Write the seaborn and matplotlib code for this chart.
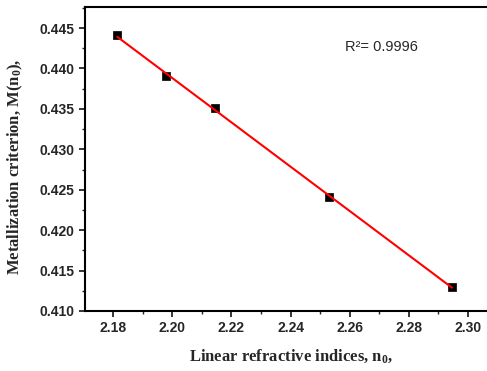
import matplotlib
matplotlib.use("Agg")
import matplotlib.pyplot as plt
import seaborn as sns
import numpy as np
from matplotlib.ticker import MultipleLocator, AutoMinorLocator, FormatStrFormatter

n0 = [2.1814, 2.1979, 2.2143, 2.2529, 2.2946]
M = [0.4441, 0.4391, 0.4351, 0.4241, 0.4130]
r2_text = "R\u00b2= 0.9996"

sns.set_style("white")
plt.rcParams['font.family'] = ['Liberation Sans', 'DejaVu Sans']
plt.rcParams['font.weight'] = 'bold'
plt.rcParams['mathtext.fontset'] = 'custom'
plt.rcParams['mathtext.rm'] = 'Liberation Serif'
plt.rcParams['mathtext.bf'] = 'Liberation Serif:bold'
plt.rcParams['mathtext.it'] = 'Liberation Serif:italic'

fig = plt.figure(figsize=(4.87, 3.71), dpi=100)
ax = fig.add_axes([85/487, 60/371, 404/487, 304/371])

sns.regplot(x=n0, y=M, ax=ax, ci=None, scatter=False,
            line_kws=dict(color='#ff0000', lw=1.5, zorder=3))
sns.scatterplot(x=n0, y=M, ax=ax, marker='s', color='black', s=30,
                edgecolor='black', linewidth=0.5, zorder=2)

ax.set_xlim(2.1705, 2.3071)
ax.set_ylim(0.410, 0.4476)
ax.xaxis.set_major_locator(MultipleLocator(0.02))
ax.xaxis.set_minor_locator(AutoMinorLocator(2))
ax.yaxis.set_major_locator(MultipleLocator(0.005))
ax.yaxis.set_minor_locator(AutoMinorLocator(2))
ax.xaxis.set_major_formatter(FormatStrFormatter('%.2f'))
ax.yaxis.set_major_formatter(FormatStrFormatter('%.3f'))

for s in ['left', 'bottom', 'top', 'right']:
    ax.spines[s].set_linewidth(1.5)
    ax.spines[s].set_color('black')

ax.tick_params(which='major', direction='out', length=4.3, width=1.3,
               left=True, bottom=True, top=False, right=False,
               labelsize=10, pad=3)
ax.tick_params(which='minor', direction='out', length=2.3, width=1.0,
               left=True, bottom=True, top=False, right=False)

ax.set_xlabel(r"Linear refractive indices, n$_\mathbf{0}$,", fontsize=12,
              fontweight='bold', family='Liberation Serif')
ax.set_ylabel(r"Metallization criterion, M(n$_\mathbf{0}$),", fontsize=12,
              fontweight='bold', family='Liberation Serif')
ax.xaxis.set_label_coords((291-85)/404, (311-347)/304)
ax.yaxis.set_label_coords((25-85)/404, (311-167)/304)

ax.text(2.2583, 0.4426, r2_text, fontsize=10.5, family='Liberation Sans',
        fontweight='normal', va='center', ha='left')

fig.savefig("out.png", dpi=100)
